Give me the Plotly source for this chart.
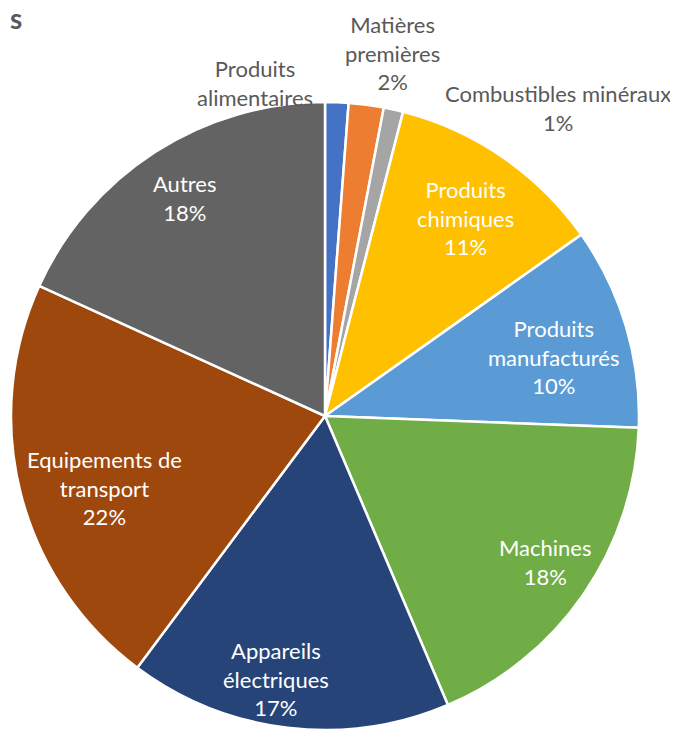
import math
import plotly.graph_objects as go

categories = ["Produits alimentaires", "Matières premières", "Combustibles minéraux",
              "Produits chimiques", "Produits manufacturés", "Machines",
              "Appareils électriques", "Equipements de transport", "Autres"]
values = [1.2, 1.8, 1.0, 11.2, 10.4, 18.0, 16.6, 21.6, 18.2]
colors = ["#4472C4", "#ED7D31", "#A5A5A5", "#FFC000", "#5B9BD5", "#70AD47",
          "#264478", "#9E480E", "#636363"]
outside = [True, True, True, False, False, False, False, False, False]
show_pct = [False, True, True, True, True, True, True, True, True]

# label placement style: radial fraction (inside) and pixel nudges
label_frac = [1.0, 1.0, 1.0, 0.77, 0.75, 0.84, 0.87, 0.74, 0.825]
label_shift = [(-82, 19), (26, 52), (165, 2), (3, -1), (3, -8), (3, 4),
               (-16, 8), (5, -14), (0, 0)]

W, H = 678, 729
OFF = 8            # page offset of the plot in the browser
R = 314
CX = 325 - OFF     # pie centre (figure px)
TOP = 102 - OFF
BOT = H - TOP - 2 * R
CY = TOP + R
PLOT_H = H - TOP - BOT

FONT = "Lato"
FS = 22
GREY = "#595959"


def wrap(name):
    if name == "Combustibles minéraux":
        return name
    i = name.rfind(" ")
    return name[:i] + "<br>" + name[i + 1:] if i > 0 else name


def to_paper(px, py):
    return px / W, 1 - (py - TOP) / PLOT_H


fig = go.Figure(go.Pie(
    labels=categories,
    values=values,
    sort=False,
    direction="clockwise",
    rotation=0,
    marker=dict(colors=colors, line=dict(color="white", width=2.5)),
    textinfo="none",
    hoverinfo="skip",
    domain=dict(x=[(CX - R) / W, (CX + R) / W], y=[0, 1]),
))

total = sum(values)
annotations = []
cum = 0.0
for i, (c, v) in enumerate(zip(categories, values)):
    mid = (cum + v / 2) / total * 2 * math.pi
    cum += v
    rr = R * label_frac[i]
    px = CX + rr * math.sin(mid)
    py = CY - rr * math.cos(mid)
    pct = round(v / total * 100)
    txt = wrap(c) + (f"<br>{pct}%" if show_pct[i] else "")
    dx, dy = label_shift[i]
    x, y = to_paper(px, py)
    annotations.append(dict(
        x=x, y=y, xref="paper", yref="paper",
        text=txt, showarrow=False, xshift=dx, yshift=dy,
        font=dict(family=FONT, size=FS, color=GREY if outside[i] else "white"),
        xanchor="center", yanchor="middle", align="center",
    ))

# title remnant at top-left
tx, ty = to_paper(0, 18 - OFF)
annotations.append(dict(
    x=tx, y=ty, xref="paper", yref="paper",
    text="<b>s</b>", showarrow=False, xanchor="left", yanchor="middle",
    font=dict(family=FONT, size=28, color=GREY),
))

fig.update_layout(
    width=W, height=H,
    margin=dict(l=0, r=0, t=TOP, b=BOT),
    paper_bgcolor="white", plot_bgcolor="white",
    showlegend=False,
    annotations=annotations,
)

fig.write_html("out.html")
